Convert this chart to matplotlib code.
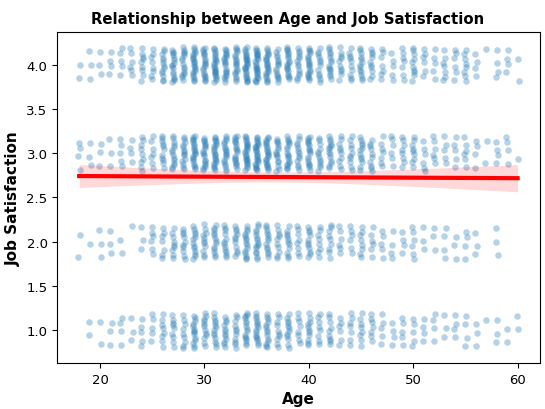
#!/usr/bin/env python3

import numpy as np
import matplotlib.pyplot as plt

# Employee counts per age for each job satisfaction level
ages = list(range(18, 61))
sat_levels = [1, 2, 3, 4]
count_sat1 = [0, 2, 2, 3, 4, 3, 5, 5, 8, 9, 9, 14, 12, 13, 12, 11, 15, 15, 14, 10, 12,
              8, 11, 8, 9, 6, 7, 8, 7, 5, 4, 5, 5, 4, 4, 3, 4, 4, 3, 1, 3, 2, 2]
count_sat2 = [2, 1, 3, 3, 2, 1, 3, 6, 7, 9, 10, 13, 11, 13, 12, 11, 15, 15, 13, 10, 11,
              8, 11, 8, 9, 6, 6, 8, 6, 5, 4, 4, 6, 3, 3, 4, 3, 4, 3, 0, 3, 0, 0]
count_sat3 = [4, 3, 3, 3, 5, 4, 9, 7, 11, 14, 14, 20, 18, 21, 18, 18, 23, 24, 21, 15, 17,
              13, 17, 12, 14, 10, 10, 12, 10, 7, 6, 8, 9, 6, 6, 5, 5, 6, 4, 2, 4, 4, 1]
count_sat4 = [2, 3, 3, 4, 5, 6, 9, 8, 13, 16, 15, 21, 19, 22, 19, 18, 24, 24, 21, 15, 18,
              13, 18, 12, 14, 10, 10, 13, 10, 7, 5, 7, 10, 6, 5, 7, 6, 8, 4, 1, 4, 4, 2]

counts = [count_sat1, count_sat2, count_sat3, count_sat4]

# expand to one row per employee
age_vals = []
sat_vals = []
for level, cnt in zip(sat_levels, counts):
    for a, n in zip(ages, cnt):
        age_vals += [a] * n
        sat_vals += [level] * n
age_vals = np.array(age_vals, dtype=float)
sat_vals = np.array(sat_vals, dtype=float)

# spread each stack a little (deterministic jitter) for display only
y_plot = []
x_plot = []
golden = 0.6180339887
for level, cnt in zip(sat_levels, counts):
    for a, n in zip(ages, cnt):
        for k in range(n):
            fy = (0.37 * a + 0.71 * level + k * golden) % 1.0
            fx = (0.53 * a + 0.29 * level + k * 0.7548776662) % 1.0
            y_plot.append(level - 0.2 + 0.4 * fy)
            x_plot.append(a - 0.12 + 0.24 * fx)

# linear fit + 95% confidence band
slope, intercept = np.polyfit(age_vals, sat_vals, 1)
x_grid = np.linspace(age_vals.min(), age_vals.max(), 100)
y_fit = intercept + slope * x_grid
resid = sat_vals - (intercept + slope * age_vals)
n = len(age_vals)
s = np.sqrt(np.sum(resid**2) / (n - 2))
sxx = np.sum((age_vals - age_vals.mean())**2)
se = s * np.sqrt(1.0 / n + (x_grid - age_vals.mean())**2 / sxx)
band = 1.96 * se

fig = plt.figure(figsize=(5.45, 4.1), dpi=100)
ax = fig.add_axes([0.105, 0.112, 0.885, 0.808])

ax.scatter(x_plot, y_plot, s=22, color='#1f77b4', alpha=0.33, linewidths=0)
ax.fill_between(x_grid, y_fit - band, y_fit + band, color='red', alpha=0.15, linewidth=0)
ax.plot(x_grid, y_fit, color='red', linewidth=3)

ax.set_xticks([20, 30, 40, 50, 60])
ax.set_yticks([1.0, 1.5, 2.0, 2.5, 3.0, 3.5, 4.0])
ax.set_yticklabels(['1.0', '1.5', '2.0', '2.5', '3.0', '3.5', '4.0'])
ax.tick_params(labelsize=9.5)
ax.set_xlim(15.9, 62.1)
ax.set_ylim(0.63, 4.37)

ax.set_xlabel('Age', fontsize=11, fontweight='bold')
ax.set_ylabel('Job Satisfaction', fontsize=11, fontweight='bold')
ax.set_title('Relationship between Age and Job Satisfaction', fontsize=10.7,
             fontweight='bold', x=0.478)

plt.savefig('out.png', dpi=100)
